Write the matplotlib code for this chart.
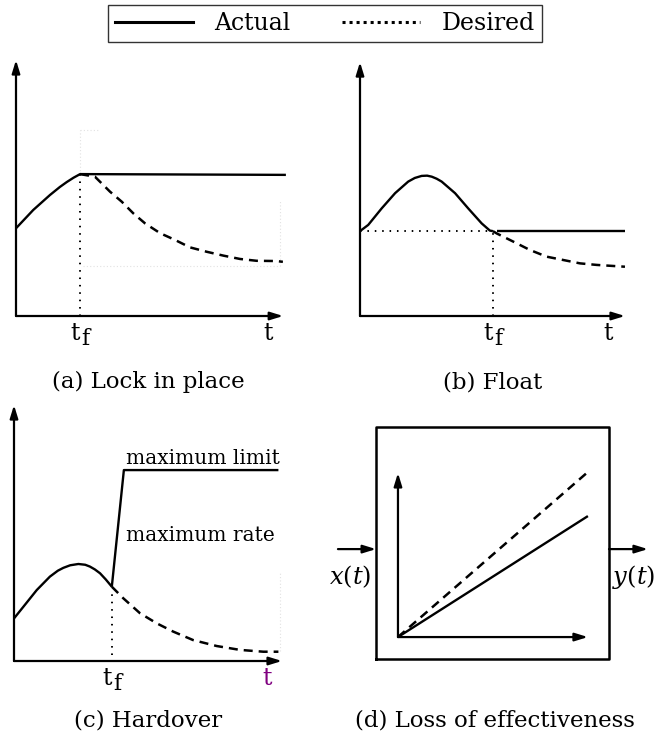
import matplotlib
matplotlib.use('Agg')
import matplotlib.pyplot as plt
from matplotlib.lines import Line2D

plt.rcParams['font.family'] = ['DejaVu Serif']
plt.rcParams['mathtext.fontset'] = 'dejavuserif'

# ---------------- schematic data (time units, response units) ----------------
# (a) Lock in place
a_tf = 2.34
a_actual_t = [0.0, 0.63, 1.24, 1.6, 1.85, 2.1, 2.34, 9.85]
a_actual_y = [3.40, 4.11, 4.69, 5.0, 5.19, 5.36, 5.5, 5.47]
a_desired_t = [2.34, 2.88, 3.43, 3.86, 4.28, 4.71, 5.26, 5.80, 6.35, 6.96,
               7.57, 8.18, 8.78, 9.51, 9.74]
a_desired_y = [5.5, 5.40, 4.82, 4.43, 3.98, 3.59, 3.21, 2.95, 2.66, 2.49,
               2.34, 2.21, 2.14, 2.13, 2.10]

# (b) Float
b_tf = 4.85
b_actual_t = [0.0, 0.30, 0.79, 1.28, 1.76, 2.0, 2.25, 2.45, 2.62, 2.8, 2.98,
              3.47, 3.95, 4.44, 4.74, 4.85]
b_actual_y = [3.29, 3.53, 4.17, 4.76, 5.21, 5.35, 5.43, 5.44, 5.40, 5.32,
              5.21, 4.76, 4.17, 3.59, 3.31, 3.29]
b_float_t = [5.0, 9.67]
b_float_y = [3.29, 3.29]
b_desired_t = [4.85, 4.99, 5.6, 6.2, 6.81, 7.42, 8.03, 8.64, 9.67]
b_desired_y = [3.29, 3.2, 2.88, 2.56, 2.30, 2.17, 2.04, 1.98, 1.91]

# (c) Hardover
c_tf = 3.57
c_actual_t = [0.0, 0.34, 0.83, 1.31, 1.6, 1.8, 2.05, 2.35, 2.6, 2.77, 2.95,
              3.14, 3.35, 3.57]
c_actual_y = [1.65, 2.10, 2.75, 3.27, 3.50, 3.61, 3.71, 3.76, 3.73, 3.66,
              3.55, 3.40, 3.16, 2.88]
c_hard_t = [3.57, 4.01, 9.65]
c_hard_y = [2.88, 7.4, 7.4]
c_desired_t = [3.57, 3.99, 4.60, 5.21, 5.81, 6.54, 7.40, 8.25, 9.10, 9.65]
c_desired_y = [2.88, 2.43, 1.85, 1.46, 1.14, 0.81, 0.58, 0.43, 0.36, 0.36]

# (d) Loss of effectiveness: input-output gain
d_x = [0.0, 6.93]
d_actual_y = [0.0, 4.69]
d_desired_y = [0.0, 6.4]

captions = ['(a) Lock in place', '(b) Float', '(c) Hardover',
            '(d) Loss of effectiveness']
legend_labels = ['Actual', 'Desired']

# ---------------- drawing ----------------
W, H = 663, 744
fig = plt.figure(figsize=(W / 100, H / 100), dpi=100)

SOLID = dict(color='black', lw=1.7, solid_capstyle='butt',
             solid_joinstyle='round', clip_on=False)
DASHED = dict(color='black', lw=1.8, dashes=(3.6, 2.4), clip_on=False)
DOTTED = dict(color='black', lw=1.4, dashes=(0.8, 3.0), clip_on=False)
FAINT = dict(color='#e2e2e2', lw=0.8, dashes=(1, 2), clip_on=False)
FS = 16.5


def panel(left, top, right, bottom, xlim=(0, 10), ylim=(0, 10)):
    ax = fig.add_axes([left / W, 1 - bottom / H, (right - left) / W,
                       (bottom - top) / H])
    ax.set_xlim(*xlim)
    ax.set_ylim(*ylim)
    ax.axis('off')
    return ax


def arrow(ax, x0, y0, x1, y1, lw=1.6):
    ax.annotate('', xy=(x1, y1), xytext=(x0, y0), annotation_clip=False,
                arrowprops=dict(arrowstyle='-|>,head_length=0.55,head_width=0.17',
                                lw=lw, color='black', shrinkA=0, shrinkB=0,
                                mutation_scale=14))


def time_axes(ax, xend, ytop, tf, tlabel_x, tcolor='black'):
    arrow(ax, 0, 0, 0, ytop)
    arrow(ax, 0, 0, xend, 0)
    # t with a dropped subscript f
    ax.annotate('t', xy=(tf, 0), xytext=(-3.5, -4), textcoords='offset points',
                ha='center', va='top', fontsize=17, annotation_clip=False)
    ax.annotate('f', xy=(tf, 0), xytext=(4, -8.5), textcoords='offset points',
                ha='center', va='top', fontsize=16, annotation_clip=False)
    ax.annotate('t', xy=(tlabel_x, 0), xytext=(0, -4), textcoords='offset points',
                ha='center', va='top', fontsize=17, color=tcolor,
                annotation_clip=False)


# (a)
ax = panel(16, 58, 290, 316)
time_axes(ax, 9.75, 9.92, a_tf, 9.2)
ax.plot([a_tf, a_tf], [5.5, 7.2], **FAINT)
ax.plot([a_tf, 3.07], [7.2, 7.2], **FAINT)
ax.plot([9.64, 9.64], [1.94, 4.5], **FAINT)
ax.plot([2.45, 9.64], [1.94, 1.94], **FAINT)
ax.plot(a_actual_t, a_actual_y, **SOLID)
ax.plot(a_desired_t, a_desired_y, **DASHED)
ax.plot([a_tf, a_tf], [0, a_actual_y[6]], **DOTTED)

# (b)
ax = panel(360, 58, 634, 316)
time_axes(ax, 9.67, 9.84, b_tf, 9.05)
ax.plot(b_actual_t, b_actual_y, **SOLID)
ax.plot(b_float_t, b_float_y, **SOLID)
ax.plot(b_desired_t, b_desired_y, **DASHED)
ax.plot([0, b_tf], [b_actual_y[0], b_actual_y[-1]], **DOTTED)
ax.plot([b_tf, b_tf], [0, b_actual_y[-1]], **DOTTED)

# (c)
ax = panel(14, 403, 288, 661)
time_axes(ax, 9.78, 9.92, c_tf, 9.22, tcolor='#800080')
ax.plot([9.7, 9.7], [0.4, 3.42], **FAINT)
ax.plot(c_actual_t, c_actual_y, **SOLID)
ax.plot(c_hard_t, c_hard_y, **SOLID)
ax.plot(c_desired_t, c_desired_y, **DASHED)
ax.plot([c_tf, c_tf], [0.25, 2.8], **DOTTED)
ax.text(4.09, 7.5, 'maximum limit', ha='left', va='bottom', fontsize=14.5)
ax.text(4.09, 4.86, 'maximum rate', ha='left', va='center', fontsize=14.5)

# (d)
ax = panel(330, 400, 663, 700, xlim=(-2.48, 9.67), ylim=(-2.44, 9.19))
ax.plot([-0.8, 7.7, 7.7, -0.8, -0.8], [-0.85, -0.85, 8.14, 8.14, -0.85],
        color='black', lw=1.8, clip_on=False)
arrow(ax, 0, 0, 0, 6.36)
arrow(ax, 0, 0, 6.93, 0)
ax.plot(d_x, d_actual_y, **SOLID)
ax.plot(d_x, d_desired_y, **DASHED)
arrow(ax, -2.19, 3.41, -0.8, 3.41)
arrow(ax, 7.7, 3.41, 9.12, 3.41)
ax.text(-1.75, 2.33, r'$x(t)$', ha='center', va='center', fontsize=FS + 1)
ax.text(8.6, 2.33, r'$y(t)$', ha='center', va='center', fontsize=FS + 1)

# captions
for cx, cy, txt in [(148, 382, captions[0]), (493, 382, captions[1]),
                    (148, 720, captions[2]), (495, 720, captions[3])]:
    fig.text(cx / W, 1 - cy / H, txt, ha='center', va='center', fontsize=FS)

# legend
handles = [Line2D([], [], color='black', lw=2.2),
           Line2D([], [], color='black', lw=2.2, dashes=(1.0, 1.3))]
leg = fig.legend(handles, legend_labels, loc='upper center',
                 bbox_to_anchor=(325 / W, 1 - 5 / H), ncol=2, fontsize=17,
                 frameon=True, fancybox=False, edgecolor='black',
                 handlelength=3.3, handletextpad=0.9, columnspacing=2.2,
                 borderpad=0.3, borderaxespad=0)
leg.get_frame().set_linewidth(1.0)

fig.savefig('out.png', dpi=100, facecolor='white')
